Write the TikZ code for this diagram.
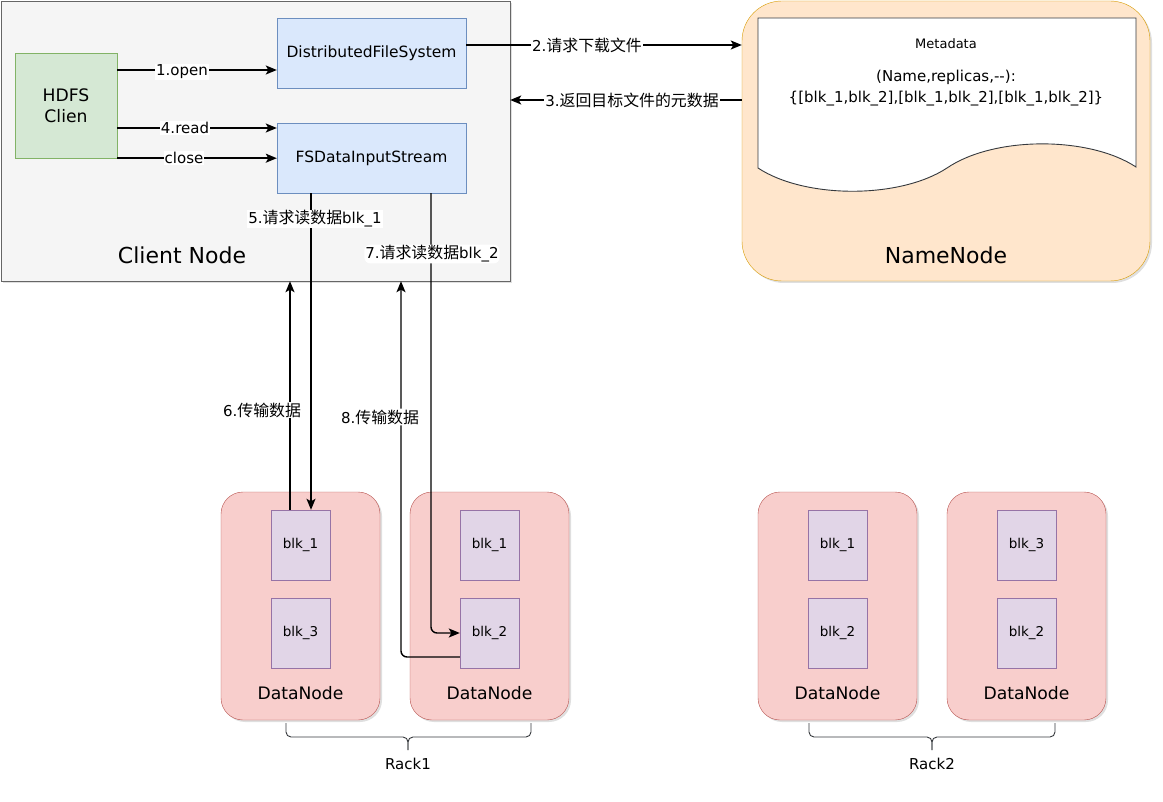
\documentclass[tikz,border=0pt]{standalone}
\usepackage{fontspec}
\setmainfont{DejaVu Sans}
\newfontfamily\cjk[Scale=1.06]{Noto Sans CJK SC}
\usetikzlibrary{arrows.meta,shadows}
\definecolor{cnfill}{HTML}{F5F5F5}
\definecolor{cnline}{HTML}{666666}
\definecolor{gfill}{HTML}{D5E8D4}
\definecolor{gline}{HTML}{82B366}
\definecolor{bfill}{HTML}{DAE8FC}
\definecolor{bline}{HTML}{6C8EBF}
\definecolor{ofill}{HTML}{FFE6CC}
\definecolor{oline}{HTML}{D79B00}
\definecolor{rfill}{HTML}{F8CECC}
\definecolor{rline}{HTML}{B85450}
\definecolor{pfill}{HTML}{E1D5E7}
\definecolor{pline}{HTML}{9673A6}
\definecolor{docline}{HTML}{36393D}
\tikzset{
  shad/.style={drop shadow={opacity=0.25,shadow xshift=2pt,shadow yshift=-2pt}},
  container/.style={draw=cnline,fill=cnfill,shad,inner sep=0pt},
  greenbox/.style={draw=gline,fill=gfill,inner sep=0pt,minimum width=102pt,minimum height=105pt,align=center,font=\fontsize{17.2}{21}\selectfont},
  bluebox/.style={draw=bline,fill=bfill,inner sep=0pt,minimum width=189pt,minimum height=70pt,font=\fontsize{15.5}{18}\selectfont},
  namebox/.style={draw=oline,fill=ofill,rounded corners=40pt,shad,inner sep=0pt,minimum width=408pt,minimum height=280pt},
  dnbox/.style={draw=rline,fill=rfill,rounded corners=22pt,shad,inner sep=0pt,minimum width=159pt,minimum height=228pt},
  blkbox/.style={draw=pline,fill=pfill,inner sep=0pt,minimum width=59pt,minimum height=70pt,font=\fontsize{13.5}{16}\selectfont},
  bigtxt/.style={font=\fontsize{22}{26}\selectfont,inner sep=0pt},
  dntxt/.style={font=\fontsize{17.2}{20}\selectfont,inner sep=0pt},
  lbl/.style={fill=white,inner sep=1pt,font=\fontsize{15}{17}\selectfont},
  doctxt/.style={font=\fontsize{15}{17}\selectfont,inner sep=0pt},
  arr/.style={draw=black,line width=1.4pt,-{Stealth[length=11pt,width=9pt,inset=2.5pt]}},
  brace/.style={draw=docline,line width=0.9pt,rounded corners=5pt},
}
\begin{document}
\begin{tikzpicture}[x=1pt,y=-1pt]
\useasboundingbox (0,0) rectangle (1163,802);
% client node
\node[container,minimum width=509pt,minimum height=280pt] (client) at (255.5,141) {};
\node[bigtxt] (clientlbl) at (182,255) {Client Node};
\node[greenbox] (hdfs) at (66,105.5) {HDFS\\Clien};
\node[bluebox] (dfs) at (371.5,53) {DistributedFileSystem};
\node[bluebox] (fsd) at (371.5,158) {FSDataInputStream};
% namenode
\node[namebox] (namenode) at (946,141) {};
\draw[docline,fill=white,line width=0.9pt] (758,18) -- (1136,18) -- (1136,167)
  .. controls (1089,136) and (994,136) .. (947,168)
  .. controls (900,199) and (805,199) .. (758,168) -- cycle;
\node[doctxt,font=\fontsize{13}{15}\selectfont] (meta) at (946,44) {Metadata};
\node[doctxt] (meta2) at (946,77) {(Name,replicas,-{}-):};
\node[doctxt] (meta3) at (946,99) {\{[blk\_1,blk\_2],[blk\_1,blk\_2],[blk\_1,blk\_2]\}};
\node[bigtxt] (nnlbl) at (946,255) {NameNode};
% datanodes
\node[dnbox] (dn1) at (300.5,606) {};
\node[dnbox] (dn2) at (489.5,606) {};
\node[dnbox] (dn3) at (837.5,606) {};
\node[dnbox] (dn4) at (1026.5,606) {};
\node[blkbox] (b11) at (300.5,545) {blk\_1};
\node[blkbox] (b12) at (300.5,633) {blk\_3};
\node[blkbox] (b21) at (489.5,545) {blk\_1};
\node[blkbox] (b22) at (489.5,633) {blk\_2};
\node[blkbox] (b31) at (837.5,545) {blk\_1};
\node[blkbox] (b32) at (837.5,633) {blk\_2};
\node[blkbox] (b41) at (1026.5,545) {blk\_3};
\node[blkbox] (b42) at (1026.5,633) {blk\_2};
\node[dntxt] (dn1lbl) at (300.5,693) {DataNode};
\node[dntxt] (dn2lbl) at (489.5,693) {DataNode};
\node[dntxt] (dn3lbl) at (837.5,693) {DataNode};
\node[dntxt] (dn4lbl) at (1026.5,693) {DataNode};
% edges in client
\draw[arr] ([yshift=35.5pt]hdfs.east) -- ([yshift=35.5pt]hdfs.east -| dfs.west) node[lbl] at (182,72) {1.open};
\draw[arr] ([yshift=-22.5pt]hdfs.east) -- ([yshift=-22.5pt]hdfs.east -| fsd.west) node[lbl] at (185,128) {4.read};
\draw[arr] (hdfs.south east) -- (hdfs.south east -| fsd.west) node[lbl] at (184,158) {close};
% namenode edges
\draw[arr] ([yshift=8pt]dfs.east) -- ([yshift=8pt]dfs.east -| namenode.west) node[lbl] at (587,45) {2.{\cjk 请求下载文件}};
\draw[arr] ([yshift=41pt]namenode.west) -- ([yshift=41pt]namenode.west -| client.east) node[lbl] at (632,100) {3.{\cjk 返回目标文件的元数据}};
% data edges
\draw[arr] ([xshift=-60.5pt]fsd.south) -- ([xshift=-60.5pt]fsd.south |- b11.north) node[lbl] at (315,219) {5.{\cjk 请求读数据}blk\_1};
\draw[arr] ([xshift=-10.5pt]b11.north) -- ([xshift=-10.5pt]b11.north |- client.south) node[lbl] at (262,410) {6.{\cjk 传输数据}};
\draw[arr,rounded corners=6pt] ([xshift=59.5pt]fsd.south) |- (b22.west) node[lbl] at (432,254) {7.{\cjk 请求读数据}blk\_2};
\draw[arr,rounded corners=6pt] ([yshift=-24pt]b22.west) -| ([xshift=29.5pt]fsd.south |- client.south) node[lbl] at (380,417) {8.{\cjk 传输数据}};
% racks
\coordinate (r1l) at (286,723);
\coordinate (r1r) at (531,723);
\coordinate (r1m) at (408,737);
\coordinate (r1t) at (408,750);
\draw[brace] (r1l) |- (r1m) -- (r1t);
\draw[brace] (r1r) |- (r1m) -- (r1t);
\node[lbl,fill=none] (rack1) at (408,764) {Rack1};
\coordinate (r2l) at (809,723);
\coordinate (r2r) at (1055,723);
\coordinate (r2m) at (932,737);
\coordinate (r2t) at (932,750);
\draw[brace] (r2l) |- (r2m) -- (r2t);
\draw[brace] (r2r) |- (r2m) -- (r2t);
\node[lbl,fill=none] (rack2) at (932,764) {Rack2};
\end{tikzpicture}
\end{document}
